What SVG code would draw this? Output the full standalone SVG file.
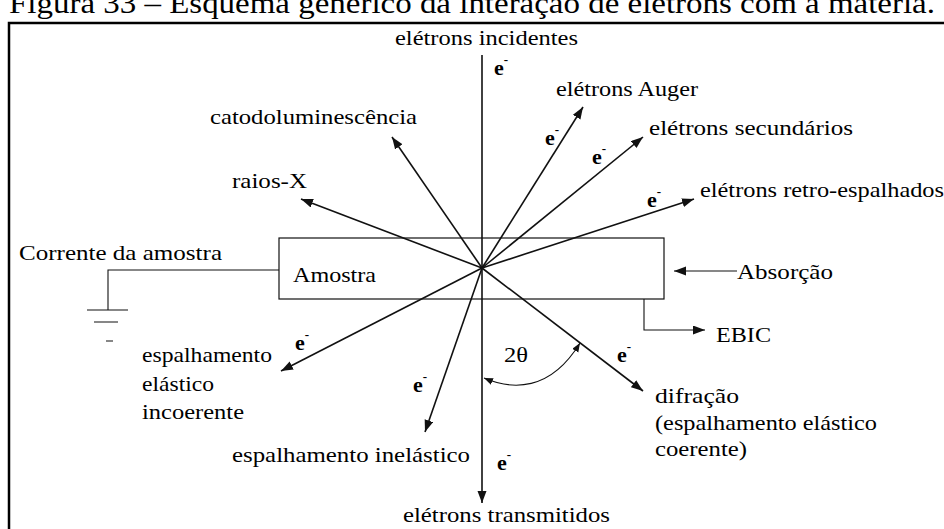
<svg xmlns="http://www.w3.org/2000/svg" width="944" height="529" viewBox="0 0 944 529">
  <style>
    text { font-family: "Liberation Serif", "Times New Roman", serif; fill: #000; }
    .lbl { font-size: 22px; }
    .cap { font-size: 30px; }
    .el { font-size: 22px; font-weight: bold; }
    .sup { font-size: 13px; font-weight: bold; }
    .ray { stroke: #111; stroke-width: 1.6; fill: none; }
    .thin { stroke: #111; stroke-width: 1.1; fill: none; }
    .frame { stroke: #000; stroke-width: 2.5; fill: none; }
  </style>
  <defs>
    <marker id="ah" markerUnits="userSpaceOnUse" markerWidth="13" markerHeight="10" refX="12" refY="4.5" orient="auto">
      <path d="M0,0 L12,4.5 L0,9 z" fill="#111"/>
    </marker>
    <marker id="ahs" markerUnits="userSpaceOnUse" markerWidth="10" markerHeight="8" refX="9" refY="3.5" orient="auto-start-reverse">
      <path d="M0,0 L9,3.5 L0,7 z" fill="#111"/>
    </marker>
  </defs>

  <!-- caption (partly above the page) -->
  <text class="cap" x="9" y="13" textLength="926" lengthAdjust="spacingAndGlyphs">Figura 33 – Esquema genérico da interação de elétrons com a matéria.</text>

  <!-- outer frame -->
  <path class="frame" d="M9,529 V23 H944"/>

  <!-- sample -->
  <g id="amostra">
    <rect x="279" y="238" width="385" height="61" fill="none" stroke="#111" stroke-width="1.2"/>
    <text class="lbl" x="293" y="282" textLength="83" lengthAdjust="spacingAndGlyphs">Amostra</text>
  </g>

  <!-- sample current to ground -->
  <g id="corrente">
    <text class="lbl" x="19" y="260" textLength="203" lengthAdjust="spacingAndGlyphs">Corrente da amostra</text>
    <path class="thin" d="M279,270 H108 V310"/>
    <path class="thin" d="M87,310 H128 M94,322 H118 M106,341 H113"/>
  </g>

  <!-- emitted / transmitted signals -->
  <g id="connectors">
    <line class="ray" x1="482" y1="55" x2="482" y2="503" marker-end="url(#ah)"/>
    <line class="ray" x1="482" y1="268" x2="583" y2="107" marker-end="url(#ah)"/>
    <line class="ray" x1="482" y1="268" x2="643" y2="137" marker-end="url(#ah)"/>
    <line class="ray" x1="482" y1="268" x2="694" y2="199" marker-end="url(#ah)"/>
    <line class="ray" x1="482" y1="268" x2="392" y2="137" marker-end="url(#ah)"/>
    <line class="ray" x1="482" y1="268" x2="301" y2="199" marker-end="url(#ah)"/>
    <line class="ray" x1="482" y1="268" x2="281" y2="371" marker-end="url(#ah)"/>
    <line class="ray" x1="482" y1="268" x2="425" y2="432" marker-end="url(#ah)"/>
    <line class="ray" x1="482" y1="268" x2="643" y2="391" marker-end="url(#ah)"/>
    <line class="thin" x1="737" y1="271" x2="674" y2="271" marker-end="url(#ah)"/>
    <path class="thin" d="M644,299 V330 H705" marker-end="url(#ah)"/>
    <path class="thin" d="M484,378 C512,390 550,392 580,343" marker-start="url(#ahs)" marker-end="url(#ahs)"/>
  </g>

  <g id="incidentes">
    <text class="lbl" x="395" y="45" textLength="183" lengthAdjust="spacingAndGlyphs">elétrons incidentes</text>
    <text class="el" x="494" y="75">e<tspan class="sup" dy="-11">-</tspan></text>
  </g>
  <g id="auger">
    <text class="lbl" x="556" y="96" textLength="142" lengthAdjust="spacingAndGlyphs">elétrons Auger</text>
    <text class="el" x="545" y="145">e<tspan class="sup" dy="-11">-</tspan></text>
  </g>
  <g id="secundarios">
    <text class="lbl" x="649" y="135" textLength="204" lengthAdjust="spacingAndGlyphs">elétrons secundários</text>
    <text class="el" x="592" y="164">e<tspan class="sup" dy="-11">-</tspan></text>
  </g>
  <g id="retro">
    <text class="lbl" x="700" y="197" textLength="244" lengthAdjust="spacingAndGlyphs">elétrons retro-espalhados</text>
    <text class="el" x="647" y="207">e<tspan class="sup" dy="-11">-</tspan></text>
  </g>
  <g id="catodo">
    <text class="lbl" x="210" y="124" textLength="207" lengthAdjust="spacingAndGlyphs">catodoluminescência</text>
  </g>
  <g id="raiosx">
    <text class="lbl" x="232" y="188" textLength="75" lengthAdjust="spacingAndGlyphs">raios-X</text>
  </g>
  <g id="absorcao">
    <text class="lbl" x="737" y="279" textLength="96" lengthAdjust="spacingAndGlyphs">Absorção</text>
  </g>
  <g id="ebic">
    <text class="lbl" x="716" y="342" textLength="55" lengthAdjust="spacingAndGlyphs">EBIC</text>
  </g>
  <g id="incoerente">
    <text class="lbl" x="142" y="362" textLength="130" lengthAdjust="spacingAndGlyphs">espalhamento</text>
    <text class="lbl" x="142" y="391" textLength="72" lengthAdjust="spacingAndGlyphs">elástico</text>
    <text class="lbl" x="142" y="419" textLength="102" lengthAdjust="spacingAndGlyphs">incoerente</text>
    <text class="el" x="295" y="350">e<tspan class="sup" dy="-11">-</tspan></text>
  </g>
  <g id="inelastico">
    <text class="lbl" x="232" y="462" textLength="238" lengthAdjust="spacingAndGlyphs">espalhamento inelástico</text>
    <text class="el" x="413" y="392">e<tspan class="sup" dy="-11">-</tspan></text>
  </g>
  <g id="difracao">
    <text class="lbl" x="655" y="403" textLength="84" lengthAdjust="spacingAndGlyphs">difração</text>
    <text class="lbl" x="655" y="430" textLength="222" lengthAdjust="spacingAndGlyphs">(espalhamento elástico</text>
    <text class="lbl" x="655" y="456" textLength="92" lengthAdjust="spacingAndGlyphs">coerente)</text>
    <text class="el" x="617" y="362">e<tspan class="sup" dy="-11">-</tspan></text>
  </g>
  <g id="angulo">
    <text class="lbl" x="504" y="362" textLength="24" lengthAdjust="spacingAndGlyphs">2θ</text>
  </g>
  <g id="transmitidos">
    <text class="lbl" x="403" y="522" textLength="207" lengthAdjust="spacingAndGlyphs">elétrons transmitidos</text>
    <text class="el" x="497" y="470">e<tspan class="sup" dy="-11">-</tspan></text>
  </g>
</svg>
